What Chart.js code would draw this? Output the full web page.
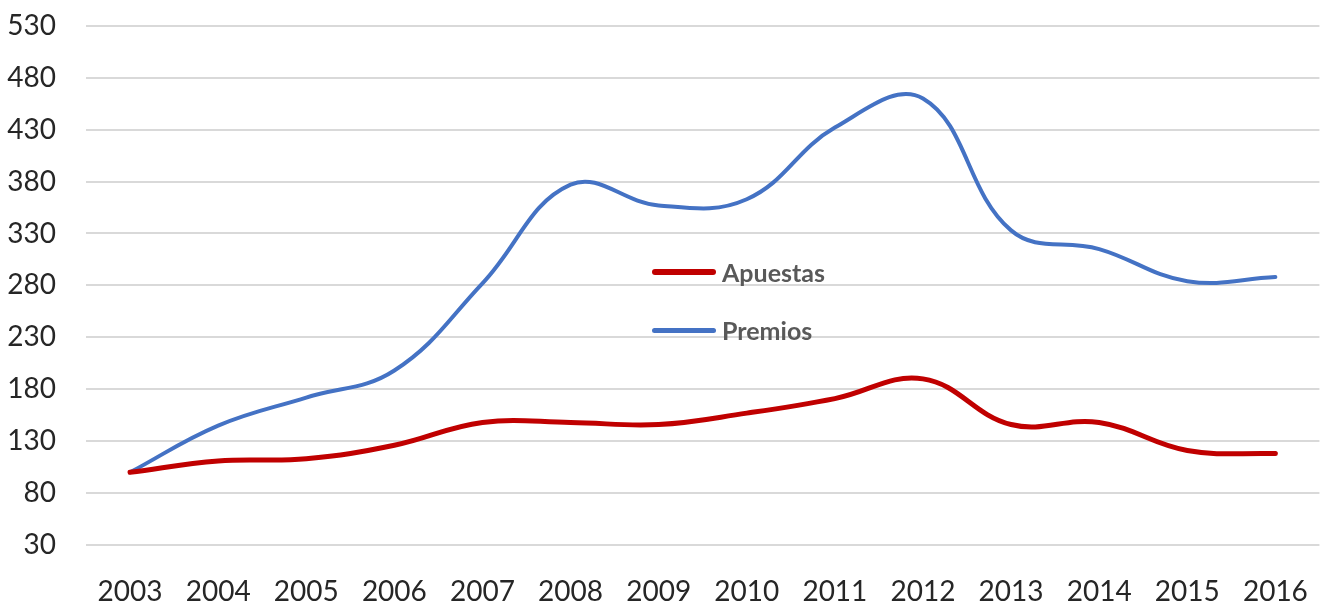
<!DOCTYPE html>
<html>
<head>
<meta charset="utf-8">
<script src="https://cdn.jsdelivr.net/npm/chart.js@4"></script>
<style>
  html, body { margin: 0; padding: 0; background: #fff; }
  #wrap { position: relative; width: 1325px; height: 608px; overflow: hidden; }
  #grafico { position: absolute; left: 0; top: -21px; }
  .leyenda { position: absolute; left: 652px; font: bold 25px Lato, "Open Sans", sans-serif; color: #595959; display: flex; align-items: center; }
  .leyenda span.linea { display: inline-block; width: 64px; border-radius: 3px; margin-right: 6px; }
</style>
</head>
<body>
<div id="wrap">
  <canvas id="grafico" width="1330" height="629"></canvas>
  <div class="leyenda" style="top:257px"><span class="linea" style="height:6px;background:#C00000"></span>Apuestas</div>
  <div class="leyenda" style="top:315px"><span class="linea" style="height:5px;background:#4472C4"></span>Premios</div>
</div>
<script>
// Índices base 2003 = 100
const anos = ['2003', '2004', '2005', '2006', '2007', '2008', '2009', '2010', '2011', '2012', '2013', '2014', '2015', '2016'];
const apuestas = [100, 111, 113, 126, 148, 148, 146, 157, 171, 190, 146, 148, 121, 118];
const premios = [100, 145, 172, 198, 282, 377, 357, 363, 432, 460, 333, 315, 284, 288];

function initChart() {
    const ctx = document.getElementById('grafico').getContext('2d');
    new Chart(ctx, {
        type: 'line',
        data: {
            labels: anos,
            datasets: [{
                label: 'Apuestas',
                data: apuestas,
                borderColor: '#C00000',
                borderWidth: 5,
                pointRadius: 0,
                tension: 0.4,
                borderCapStyle: 'round'
            }, {
                label: 'Premios',
                data: premios,
                borderColor: '#4472C4',
                borderWidth: 4,
                pointRadius: 0,
                tension: 0.4,
                borderCapStyle: 'round'
            }]
        },
        options: {
            responsive: false,
            animation: false,
            layout: { padding: { top: 0, right: 4, bottom: 0, left: 0 } },
            plugins: {
                legend: { display: false },
                tooltip: { enabled: false }
            },
            scales: {
                x: {
                    offset: true,
                    grid: { display: false },
                    border: { display: false },
                    ticks: { color: '#262626', font: { family: 'Lato', size: 28 }, padding: 22, maxRotation: 0 },
                    afterFit: (s) => { s.height = 63; }
                },
                y: {
                    min: 30,
                    max: 530,
                    ticks: { stepSize: 50, color: '#262626', font: { family: 'Lato', size: 28 }, padding: 30 },
                    grid: { color: '#d9d9d9', lineWidth: 2, drawTicks: false },
                    border: { display: false },
                    afterFit: (s) => { s.width = 86; }
                }
            }
        }
    });
}

document.addEventListener('DOMContentLoaded', initChart);
</script>
</body>
</html>
